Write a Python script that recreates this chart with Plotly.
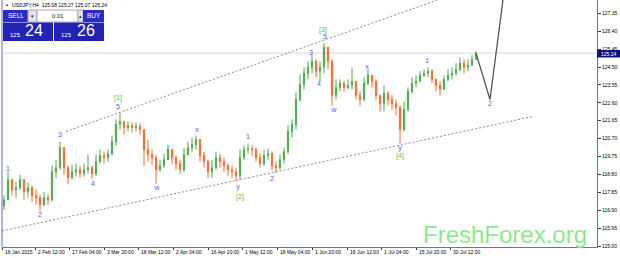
import plotly.graph_objects as go

# ---------------- data ----------------
closes = [117.45, 118.52, 117.99, 118.09, 118.52, 117.88, 118.09, 117.67, 117.56, 117.19,
          117.56, 117.45, 118.94, 119.16, 120.22, 119.16, 118.62, 118.94, 119.05, 118.84,
          119.05, 119.16, 118.84, 119.48, 119.80, 119.69, 119.90, 120.54, 121.45, 121.61,
          121.29, 121.40, 121.29, 121.34, 121.18, 120.12, 119.85, 119.69, 119.05, 119.26,
          119.58, 120.12, 119.69, 119.37, 119.05, 119.85, 120.22, 120.38, 120.65, 119.80,
          119.48, 118.94, 119.16, 119.69, 119.48, 119.26, 119.05, 118.94, 118.73, 119.69,
          120.12, 120.17, 120.12, 119.69, 119.37, 119.80, 119.90, 119.26, 119.16, 119.58,
          120.01, 121.08, 121.45, 122.78, 123.58, 124.17, 124.49, 124.81, 124.28, 124.49,
          125.55, 124.81, 123.00, 123.42, 123.64, 123.42, 123.53, 123.74, 123.00, 122.78,
          123.64, 124.06, 123.74, 123.00, 122.57, 123.10, 122.78, 122.57, 122.36, 121.18,
          122.25, 123.21, 123.64, 123.74, 124.06, 124.17, 124.28, 123.85, 123.53, 123.32,
          123.85, 124.06, 124.17, 124.38, 124.70, 124.49, 124.59, 124.91, 125.24]
highs = [117.67, 118.94, 118.41, 118.41, 118.78, 118.52, 118.36, 118.20, 117.99, 117.72,
         117.88, 117.77, 119.26, 119.58, 120.54, 120.12, 119.26, 119.32, 119.37, 119.26,
         119.37, 119.85, 119.26, 119.85, 120.12, 120.01, 120.12, 120.86, 121.72, 122.04,
         121.61, 121.61, 121.56, 121.56, 121.50, 121.18, 120.65, 120.12, 119.85, 119.58,
         119.90, 120.38, 120.12, 119.80, 119.58, 120.22, 120.54, 120.76, 120.86, 120.65,
         120.01, 119.58, 119.58, 120.01, 119.90, 119.69, 119.37, 119.26, 119.16, 120.12,
         120.33, 120.44, 120.33, 120.22, 119.90, 120.12, 120.17, 120.01, 119.48, 119.85,
         120.22, 121.40, 121.72, 123.16, 124.12, 124.49, 124.81, 125.13, 124.91, 124.81,
         125.77, 125.55, 124.91, 123.85, 123.85, 123.74, 123.85, 124.49, 123.74, 123.21,
         123.96, 124.38, 124.06, 123.85, 123.00, 123.53, 123.21, 123.00, 122.78, 122.46,
         122.68, 123.42, 123.96, 124.06, 124.28, 124.38, 124.49, 124.38, 123.85, 123.74,
         124.06, 124.38, 124.49, 124.70, 125.02, 124.91, 124.91, 125.13, 125.34]
lows = [116.92, 118.09, 117.67, 117.56, 117.99, 117.45, 117.56, 117.35, 117.19, 116.87,
        117.13, 117.19, 117.35, 118.62, 119.05, 118.78, 118.30, 118.52, 118.68, 118.62,
        118.68, 118.84, 118.57, 118.73, 119.37, 119.37, 119.48, 119.80, 120.33, 121.18,
        120.92, 121.08, 121.02, 121.08, 120.92, 119.26, 119.48, 119.32, 118.30, 118.94,
        119.16, 119.69, 119.37, 119.05, 118.84, 118.94, 119.80, 120.01, 120.12, 119.48,
        119.16, 118.62, 118.62, 119.05, 119.16, 118.94, 118.73, 118.62, 118.46, 118.52,
        119.58, 119.90, 119.80, 119.48, 119.16, 119.26, 119.58, 119.05, 118.89, 119.05,
        119.37, 119.90, 120.76, 121.18, 122.68, 123.32, 123.85, 124.17, 123.96, 123.74,
        124.17, 124.38, 122.46, 122.78, 123.21, 123.21, 123.32, 123.32, 122.78, 122.46,
        122.68, 123.53, 123.42, 122.78, 122.14, 122.14, 122.46, 122.25, 121.93, 120.44,
        121.08, 122.14, 123.10, 123.42, 123.74, 123.96, 123.96, 123.64, 123.21, 123.00,
        123.32, 123.74, 123.85, 124.06, 124.28, 124.17, 124.28, 124.59, 124.91]
first_open = 117.13
opens = [first_open] + closes[:-1]
bar_index = list(range(len(closes)))

x_tick_labels = ["16 Jan 2015", "2 Feb 12:00", "17 Feb 04:00", "3 Mar 20:00", "18 Mar 12:00",
                 "2 Apr 04:00", "16 Apr 20:00", "1 May 12:00", "18 May 04:00", "1 Jun 20:00",
                 "16 Jun 12:00", "1 Jul 04:00", "15 Jul 20:00", "30 Jul 12:00"]
x_tick_pos = [-0.5, 7.75, 16.25, 25, 33.5, 42.25, 51, 59.5, 68.25, 77, 85.75, 94.25, 103, 111.5]
y_ticks = [115.00, 115.95, 116.90, 117.85, 118.80, 119.75, 120.70, 121.65, 122.60,
           123.55, 124.50, 125.45, 126.40, 127.35]

wave_text = ["1", "2", "3", "4", "5", "w", "x", "y", "1", "2", "3", "4", "5", "w", "x", "y", "1", "2"]
wave_idx = [1, 9, 14, 22.25, 28.5, 38.25, 48.25, 58.5, 61, 67, 76.75, 78.75, 80.25, 82.5, 90.75, 99, 105.75, 121.5]
wave_price = [119.10, 116.65, 120.86, 118.30, 122.36, 118.04, 121.13, 118.14, 120.76, 118.52,
              125.23, 123.58, 126.09, 122.20, 124.49, 120.17, 124.81, 122.52]
major_text = ["[1]", "[2]", "[3]", "[4]"]
major_idx = [28.5, 59, 79.75, 99]
major_price = [122.84, 117.61, 126.46, 119.74]

upper_idx = [15.5, 109]
upper_price = [121.08, 128.11]
lower_idx = [-0.5, 132.25]
lower_price = [115.80, 121.88]
proj_idx = [118, 121.5, 125.5]
proj_price = [125.24, 122.78, 129.3]
current_price = 125.24
header = "USDJPY,H4  125.08 125.27 125.07 125.24"

# ---------------- figure ----------------
W, H = 620, 258
ML, MR, MT, MB = 2, 23, 0, 11
PW, PH = W - ML - MR, H - MT - MB

def px(x):
    return (x - ML) / PW

def py(y):
    return (MT + PH - y) / PH

FONT = "Liberation Sans, Arial, sans-serif"
fig = go.Figure()

fig.add_trace(go.Scatter(x=upper_idx, y=upper_price, mode="lines",
                         line=dict(color="#8a8a8a", width=1, dash="2px,2px"),
                         hoverinfo="skip", showlegend=False))
fig.add_trace(go.Scatter(x=lower_idx, y=lower_price, mode="lines",
                         line=dict(color="#8a8a8a", width=1, dash="2px,2px"),
                         hoverinfo="skip", showlegend=False))

fig.add_trace(go.Candlestick(
    x=bar_index, open=opens, high=highs, low=lows, close=closes,
    increasing=dict(line=dict(color="#4ea64e", width=1), fillcolor="#62c062"),
    decreasing=dict(line=dict(color="#f06a30", width=1), fillcolor="#f47a3a"),
    whiskerwidth=0, showlegend=False, hoverinfo="skip"))

fig.add_trace(go.Scatter(x=proj_idx, y=proj_price, mode="lines",
                         line=dict(color="#555555", width=1.3),
                         hoverinfo="skip", showlegend=False))

fig.add_trace(go.Scatter(x=wave_idx, y=wave_price, mode="text", text=wave_text,
                         textfont=dict(family=FONT, size=7, color="#5a5af0"),
                         hoverinfo="skip", showlegend=False))
fig.add_trace(go.Scatter(x=major_idx, y=major_price, mode="text", text=major_text,
                         textfont=dict(family=FONT, size=7, color="#5cc05c"),
                         hoverinfo="skip", showlegend=False))

shapes = []
# current price line
shapes.append(dict(type="line", xref="paper", yref="y", x0=0, x1=1,
                   y0=current_price, y1=current_price,
                   line=dict(color="#d9d9d9", width=1), layer="below"))
# left frame line
shapes.append(dict(type="line", xref="paper", yref="paper", x0=0, x1=0, y0=0, y1=1,
                   line=dict(color="#6b6bc8", width=1)))

def rect(x0, x1, y0, y1, fill, line=None):
    shapes.append(dict(type="rect", xref="paper", yref="paper",
                       x0=px(x0), x1=px(x1), y0=py(y1), y1=py(y0),
                       fillcolor=fill, line=dict(color=line or fill, width=1 if line else 0)))

# trade panel
rect(3, 28, 10, 22, "#2b2bcc")
rect(28, 37, 10, 22, "#e4e4ec", "#a8a8b8")
rect(37, 78, 10, 22, "#ffffff", "#a8a8b8")
rect(78, 83, 10, 22, "#e4e4ec", "#a8a8b8")
rect(83, 104, 10, 22, "#2b2bcc")
rect(3, 53, 22.5, 41, "#2222b4")
rect(54, 104, 22.5, 41, "#2222b4")
# price tag on the right axis
shapes.append(dict(type="rect", xref="paper", yref="paper", x0=px(597), x1=px(620),
                   y0=py(57.5), y1=py(50), fillcolor="#12127a", line=dict(width=0)))

ann = []

def text(x, y, t, size, color, xanchor="center", family=FONT):
    ann.append(dict(xref="paper", yref="paper", x=px(x), y=py(y), text=t, showarrow=False,
                    xanchor=xanchor, yanchor="middle",
                    font=dict(family=family, size=size, color=color)))

text(3, 5, "▲", 4, "#1a1a80", "left")
text(10, 5, header, 5, "#000000", "left")
text(15.5, 16, "SELL", 6.5, "#ffffff")
text(93.5, 16, "BUY", 6.5, "#ffffff")
text(32.5, 16, "▾", 5, "#222222")
text(80.5, 16, "▴", 5, "#222222")
text(66, 16, "0.01", 6, "#222222", "right")
text(15, 34.5, "125", 6, "#ffffff")
text(34, 31, "24", 16, "#ffffff")
text(66, 34.5, "125", 6, "#ffffff")
text(86, 31, "26", 16, "#ffffff")
text(599, 53.7, "%.2f" % current_price, 5, "#ffffff", "left")
# watermark
ann.append(dict(xref="paper", yref="paper", x=px(589), y=py(250), text="FreshForex.org",
                showarrow=False, xanchor="right", yanchor="bottom",
                font=dict(family="Liberation Sans, Arial, sans-serif",
                          size=24, color="#8ee88e")))
# x tick labels (left aligned at their ticks)
for lab, pos in zip(x_tick_labels, x_tick_pos):
    ann.append(dict(xref="x", yref="paper", x=pos, y=py(252.5), text=lab, showarrow=False,
                    xanchor="left", yanchor="middle", xshift=1,
                    font=dict(family=FONT, size=5, color="#000000")))

fig.update_layout(
    width=W, height=H, margin=dict(l=ML, r=MR, t=MT, b=MB),
    paper_bgcolor="white", plot_bgcolor="white",
    shapes=shapes, annotations=ann, showlegend=False, boxgap=0.55,
    xaxis=dict(range=[-0.5, 148.25], showgrid=False, zeroline=False,
               showline=True, linecolor="#6b6bc8", linewidth=1,
               tickvals=x_tick_pos, ticks="outside", ticklen=2, tickcolor="#333",
               showticklabels=False, rangeslider=dict(visible=False), fixedrange=True),
    yaxis=dict(range=[114.947, 128.06], side="right", showgrid=False, zeroline=False,
               showline=True, linecolor="#6b6bc8", linewidth=1,
               tickvals=y_ticks, ticktext=["%.2f" % v for v in y_ticks],
               ticks="outside", ticklen=3, tickcolor="#333",
               tickfont=dict(family=FONT, size=5, color="#000000"), fixedrange=True),
)

fig.write_html("out.html")
